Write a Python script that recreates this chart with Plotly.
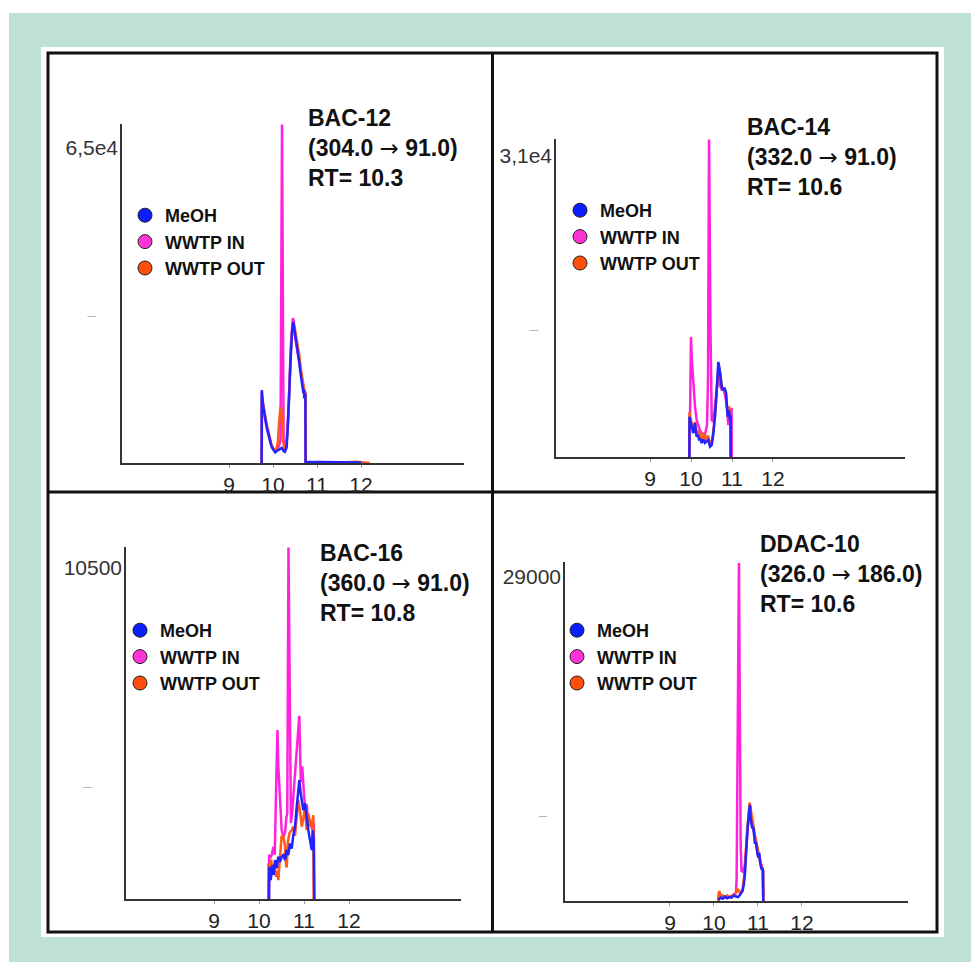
import plotly.graph_objects as go

# ------------------------------------------------------------------ data
SERIES = ["MeOH", "WWTP IN", "WWTP OUT"]
X_TICKS = [9, 10, 11, 12]

PANEL_NAMES = ["BAC-12", "BAC-14", "BAC-16", "DDAC-10"]
PANEL_TRANSITIONS = [("304.0", "91.0"), ("332.0", "91.0"), ("360.0", "91.0"), ("326.0", "186.0")]
PANEL_RT = ["10.3", "10.6", "10.8", "10.6"]
Y_TICK_VALUES = [[65000, 31000], [31000, 13450], [10500, 3640], [29000, 7940]]
Y_TICK_LABELS = ["6,5e4", "3,1e4", "10500", "29000"]
Y_MAX = [69800, 32700, 11150, 30300]

# BAC-12
BAC12_MEOH_T = [9.742, 9.745, 9.76, 9.78, 9.80, 9.82, 9.86, 9.89, 9.93, 9.97,
                10.01, 10.05, 10.09, 10.12, 10.16, 10.2, 10.24, 10.27, 10.29, 10.31,
                10.33, 10.35, 10.37, 10.39, 10.41, 10.43, 10.45, 10.46, 10.48, 10.5,
                10.52, 10.55, 10.58, 10.6, 10.62, 10.65, 10.67, 10.69, 10.70, 10.71,
                10.72, 10.735, 10.74, 10.8, 11.2, 11.6, 12.0]
BAC12_MEOH_I = [0, 15000, 13200, 11500, 10300, 8800, 7300, 6200, 4600, 3300,
                2700, 2200, 2500, 2700, 2900, 3100, 2500, 2300, 2700, 3300,
                6500, 9500, 14500, 19700, 23800, 26800, 28500, 29000, 27800, 26700,
                25500, 23800, 22500, 20500, 18800, 17000, 15500, 14400, 15200, 13300,
                14300, 14000, 0, 200, 150, 250, 100]
BAC12_IN_T = [9.742, 9.745, 9.78, 9.82, 9.86, 9.9, 9.95, 10.0, 10.05, 10.1,
              10.14, 10.17, 10.205, 10.24, 10.27, 10.3, 10.33, 10.37, 10.41, 10.45,
              10.47, 10.5, 10.55, 10.6, 10.65, 10.7, 10.735, 10.74, 11.0, 11.5, 12.0]
BAC12_IN_I = [0, 14500, 11200, 8600, 7000, 5600, 3900, 3000, 2600, 2900,
              3600, 4700, 69700, 4700, 3000, 3200, 7000, 15500, 25000, 29800,
              29300, 26000, 23000, 21000, 17500, 15000, 13800, 0, 200, 150, 100]
BAC12_OUT_T = [9.745, 9.75, 9.78, 9.82, 9.86, 9.9, 9.93, 9.97, 10.01, 10.05,
               10.08, 10.11, 10.14, 10.17, 10.19, 10.21, 10.23, 10.26, 10.3, 10.34,
               10.38, 10.42, 10.45, 10.47, 10.5, 10.53, 10.56, 10.6, 10.63, 10.66,
               10.69, 10.71, 10.74, 10.745, 11.0, 11.5, 11.9, 12.05, 12.2]
BAC12_OUT_I = [0, 13500, 12000, 9500, 7800, 6300, 5000, 3600, 3000, 2300,
               2800, 4500, 8500, 11500, 11000, 8000, 4500, 3000, 3500, 8000,
               17500, 25500, 28500, 28700, 27500, 26000, 24500, 22000, 19500, 17500,
               16500, 15000, 14500, 0, 150, 100, 250, 150, 0]

# BAC-14
BAC14_MEOH_T = [9.959, 9.963, 9.99, 10.017, 10.04, 10.056, 10.08, 10.098, 10.12, 10.139,
                10.17, 10.2, 10.22, 10.26, 10.3, 10.34, 10.38, 10.42, 10.463, 10.505,
                10.54, 10.585, 10.627, 10.666, 10.69, 10.724, 10.749, 10.788, 10.82, 10.854,
                10.875, 10.895, 10.927, 10.951, 10.965, 10.968]
BAC14_MEOH_I = [0, 4140, 3600, 3110, 2900, 2460, 3000, 3490, 2600, 2085,
                2300, 1700, 1950, 1440, 1800, 1440, 1600, 1745, 1060, 1230,
                2200, 4140, 6880, 9780, 9240, 8240, 7220, 6880, 7100, 6570,
                5500, 4140, 4820, 3800, 4300, 0]
BAC14_IN_T = [9.965, 9.975, 9.99, 10.0, 10.02, 10.056, 10.098, 10.139, 10.18, 10.22,
              10.26, 10.3, 10.34, 10.39, 10.415, 10.44, 10.476, 10.505, 10.544, 10.585,
              10.627, 10.666, 10.707, 10.749, 10.788, 10.83, 10.87, 10.91, 10.95, 10.99,
              10.995]
BAC14_IN_I = [0, 4500, 9500, 12350, 10000, 7220, 5160, 3800, 3110, 2700,
              2460, 2300, 2260, 3285, 7900, 32640, 13040, 3800, 3620, 5340,
              7390, 8420, 7390, 6880, 7080, 6360, 5340, 3285, 4620, 5030,
              0]
BAC14_OUT_T = [9.96, 9.963, 9.99, 10.02, 10.06, 10.1, 10.14, 10.18, 10.22, 10.26,
               10.3, 10.34, 10.38, 10.42, 10.46, 10.5, 10.55, 10.6, 10.65, 10.68,
               10.72, 10.76, 10.8, 10.85, 10.89, 10.93, 10.96, 10.965]
BAC14_OUT_I = [0, 4600, 3900, 3400, 2800, 3600, 2500, 2600, 2200, 1800,
               2500, 1700, 2000, 2200, 1300, 1500, 2800, 5000, 8300, 9300,
               8500, 7000, 6900, 6700, 4600, 5200, 4000, 0]

# BAC-16
BAC16_MEOH_T = [10.222, 10.229, 10.26, 10.296, 10.327, 10.356, 10.393, 10.429, 10.467, 10.504,
                10.54, 10.578, 10.616, 10.651, 10.689, 10.727, 10.762, 10.8, 10.838, 10.873,
                10.896, 10.927, 10.949, 10.984, 11.022, 11.06, 11.096, 11.133, 11.171, 11.193,
                11.216, 11.229]
BAC16_MEOH_I = [0, 1020, 600, 1075, 760, 1235, 970, 1340, 1180, 1340,
                1390, 1235, 1550, 1390, 1760, 1600, 2025, 2290, 2920, 3605,
                3765, 3340, 3130, 2815, 3035, 2500, 2180, 1865, 1550, 2180,
                1865, 0]
BAC16_IN_T = [10.222, 10.225, 10.25, 10.282, 10.318, 10.35, 10.38, 10.41, 10.429, 10.467,
              10.504, 10.54, 10.578, 10.61, 10.628, 10.655, 10.71, 10.74, 10.78, 10.82,
              10.86, 10.895, 10.93, 10.96, 11.0, 11.03, 11.06, 11.1, 11.14, 11.18,
              11.22, 11.225]
BAC16_IN_I = [0, 1400, 1300, 1390, 1650, 1400, 3500, 5350, 4185, 3130,
              2180, 1970, 2100, 2600, 2700, 11130, 2400, 2800, 3600, 4300,
              5000, 5800, 3700, 4200, 3300, 2800, 3000, 2300, 2500, 2200,
              2400, 0]
BAC16_OUT_T = [10.207, 10.21, 10.24, 10.27, 10.3, 10.34, 10.38, 10.41, 10.43, 10.46,
               10.5, 10.54, 10.578, 10.6, 10.616, 10.64, 10.68, 10.727, 10.76, 10.8,
               10.838, 10.873, 10.91, 10.949, 10.98, 11.022, 11.06, 11.096, 11.14, 11.17,
               11.207, 11.215]
BAC16_OUT_I = [0, 1130, 900, 1250, 800, 1100, 700, 900, 600, 1300,
               1970, 2000, 1655, 1100, 1000, 1800, 2100, 2180, 2300, 2000,
               2500, 3130, 2800, 2290, 2500, 2920, 2180, 2700, 2400, 2300,
               2655, 0]

# DDAC-10
DDAC10_MEOH_T = [10.1, 10.15, 10.2, 10.25, 10.3, 10.35, 10.4, 10.45, 10.5, 10.55,
                 10.6, 10.65, 10.68, 10.705, 10.73, 10.743, 10.76, 10.78, 10.8, 10.818,
                 10.835, 10.85, 10.87, 10.893, 10.91, 10.932, 10.95, 10.97, 10.99, 11.007,
                 11.03, 11.05, 11.07, 11.084, 11.1, 11.115, 11.12]
DDAC10_MEOH_I = [100, 300, 200, 400, 250, 350, 300, 500, 400, 350,
                 600, 900, 1500, 2500, 4200, 5400, 6300, 7200, 8000, 8600,
                 7300, 7000, 6500, 6600, 5600, 5100, 5300, 4500, 4200, 3900,
                 4300, 3400, 2800, 2800, 3000, 2700, 0]
DDAC10_IN_T = [10.1, 10.11, 10.15, 10.2, 10.3, 10.4, 10.45, 10.5, 10.515, 10.568,
               10.607, 10.625, 10.66, 10.7, 10.73, 10.76, 10.8, 10.82, 10.85, 10.9,
               10.95, 11.0, 11.05, 11.1, 11.12]
DDAC10_IN_I = [0, 800, 400, 300, 350, 400, 600, 700, 2000, 30200,
               5000, 2700, 2600, 3200, 4500, 6400, 8200, 8500, 7200, 6300,
               5400, 4100, 3600, 2900, 0]
DDAC10_OUT_T = [10.1, 10.12, 10.16, 10.2, 10.25, 10.3, 10.35, 10.4, 10.45, 10.5,
                10.53, 10.56, 10.6, 10.65, 10.7, 10.74, 10.78, 10.81, 10.83, 10.86,
                10.9, 10.93, 10.96, 11.0, 11.03, 11.06, 11.09, 11.12, 11.125]
DDAC10_OUT_I = [0, 900, 300, 500, 350, 500, 300, 450, 500, 700,
                1100, 900, 700, 1100, 2600, 5600, 7600, 8800, 8300, 7400,
                6700, 5900, 5300, 4500, 3900, 3300, 2900, 2700, 0]

PANEL_DATA = [
    [(BAC12_MEOH_T, BAC12_MEOH_I), (BAC12_IN_T, BAC12_IN_I), (BAC12_OUT_T, BAC12_OUT_I)],
    [(BAC14_MEOH_T, BAC14_MEOH_I), (BAC14_IN_T, BAC14_IN_I), (BAC14_OUT_T, BAC14_OUT_I)],
    [(BAC16_MEOH_T, BAC16_MEOH_I), (BAC16_IN_T, BAC16_IN_I), (BAC16_OUT_T, BAC16_OUT_I)],
    [(DDAC10_MEOH_T, DDAC10_MEOH_I), (DDAC10_IN_T, DDAC10_IN_I), (DDAC10_OUT_T, DDAC10_OUT_I)],
]

# ------------------------------------------------------------------ style / layout
W, H = 971, 962
FONT = "Liberation Sans, Arial, sans-serif"
LINE_COLORS = ["#2323ff", "#ff22dd", "#ff5a1a"]
DOT_COLORS = ["#0a1eff", "#ff33d6", "#ff4d0a"]
DRAW_ORDER = [1, 2, 0]  # magenta, orange, then blue on top

# pixel geometry of each panel: (x_left, x_right, y_top, y_bottom), x range
PANEL_BOX = [(122, 464, 124, 463), (556, 905, 139, 457), (126, 461, 547, 899), (565, 908, 562, 901)]
X_RANGES = [(6.568, 14.34), (6.707, 15.22), (7.044, 14.489), (6.614, 14.41)]
DASH_PAD = [8, 5, 11, 5]
TITLE_POS = [(306, 148), (745, 157), (318, 583), (758, 574)]
LEGEND_POS = [(125, 197), (560, 192), (120, 612), (557, 612)]


def px(x):
    return x / W


def py(y):
    return 1 - y / H


def title_text(p):
    a, b = PANEL_TRANSITIONS[p]
    arrow = "<span style='font-family:DejaVu Sans;font-weight:normal'>\u2192</span>"
    return f"{PANEL_NAMES[p]}<br>({a} {arrow} {b})<br>RT= {PANEL_RT[p]}"


fig = go.Figure()
layout = dict(
    width=W, height=H, margin=dict(l=0, r=0, t=0, b=0),
    paper_bgcolor="white", plot_bgcolor="rgba(0,0,0,0)",
    font=dict(family=FONT, color="#222"),
    showlegend=True,
)

for p in range(4):
    sfx = "" if p == 0 else str(p + 1)
    xa, ya = "x" + sfx, "y" + sfx
    leg = "legend" + sfx
    for s in DRAW_ORDER:
        t, v = PANEL_DATA[p][s]
        fig.add_trace(go.Scatter(
            x=t, y=v, mode="lines", name=SERIES[s], showlegend=False,
            line=dict(color=LINE_COLORS[s], width=2.5),
            xaxis=xa, yaxis=ya, hoverinfo="skip",
        ))
    for s in range(3):
        fig.add_trace(go.Scatter(
            x=[None], y=[None], mode="markers", name=SERIES[s],
            marker=dict(color=DOT_COLORS[s], size=14, line=dict(color="#222", width=1)),
            xaxis=xa, yaxis=ya, legend=leg, showlegend=True,
        ))
    x0, x1, y0, y1 = PANEL_BOX[p]
    layout["xaxis" + sfx] = dict(
        domain=[px(x0), px(x1)], range=list(X_RANGES[p]), anchor=ya,
        showline=True, linecolor="#333", linewidth=1.5, showgrid=False, zeroline=False,
        tickvals=X_TICKS, ticktext=[str(v) for v in X_TICKS],
        ticks="outside", ticklen=3, tickcolor="#999", tickwidth=1,
        ticklabelstandoff=-1,
        tickfont=dict(size=21, color="#222", family=FONT),
    )
    dash = ("<span style='color:#b5b5b5;font-size:15px'>\u2013</span>"
            "<span style='font-size:10px'>" + "&nbsp;" * DASH_PAD[p] + "</span>")
    layout["yaxis" + sfx] = dict(
        domain=[py(y1), py(y0)], range=[0, Y_MAX[p]], anchor=xa,
        showline=True, linecolor="#333", linewidth=1.5, showgrid=False, zeroline=False,
        tickvals=Y_TICK_VALUES[p], ticktext=[Y_TICK_LABELS[p], dash],
        ticks="", ticklabelstandoff=-2,
        tickfont=dict(size=21, color="#333", family=FONT),
    )
    lx, ly = LEGEND_POS[p]
    layout[leg] = dict(
        x=px(lx), y=py(ly), xanchor="left", yanchor="top",
        bgcolor="rgba(0,0,0,0)", borderwidth=0, itemwidth=30, tracegroupgap=0,
        font=dict(size=18, color="#111", family=FONT, weight="bold"),
        itemclick=False, itemdoubleclick=False,
    )

fig.update_layout(**layout)

# panel titles
for p in range(4):
    tx, ty = TITLE_POS[p]
    fig.add_annotation(
        x=px(tx), y=py(ty), xref="paper", yref="paper", xanchor="left", yanchor="middle",
        text=title_text(p), showarrow=False, align="left",
        font=dict(size=23, color="#111", family=FONT, weight="bold"),
    )

# background frame: green mat, white card, black panel grid
shapes = [
    dict(type="rect", xref="paper", yref="paper", x0=px(9), x1=px(971), y0=py(962), y1=py(13),
         fillcolor="#c0e2d4", line=dict(width=0), layer="below"),
    dict(type="rect", xref="paper", yref="paper", x0=px(41), x1=px(944), y0=py(937), y1=py(47),
         fillcolor="white", line=dict(width=0), layer="below"),
    dict(type="rect", xref="paper", yref="paper", x0=px(48), x1=px(937), y0=py(932), y1=py(53),
         fillcolor="rgba(0,0,0,0)", line=dict(color="#111", width=3), layer="below"),
    dict(type="line", xref="paper", yref="paper", x0=px(492.5), x1=px(492.5), y0=py(932), y1=py(53),
         line=dict(color="#111", width=3), layer="below"),
    dict(type="line", xref="paper", yref="paper", x0=px(48), x1=px(937), y0=py(492), y1=py(492),
         line=dict(color="#111", width=3), layer="below"),
]
fig.update_layout(shapes=shapes)

fig.write_html("out.html")
